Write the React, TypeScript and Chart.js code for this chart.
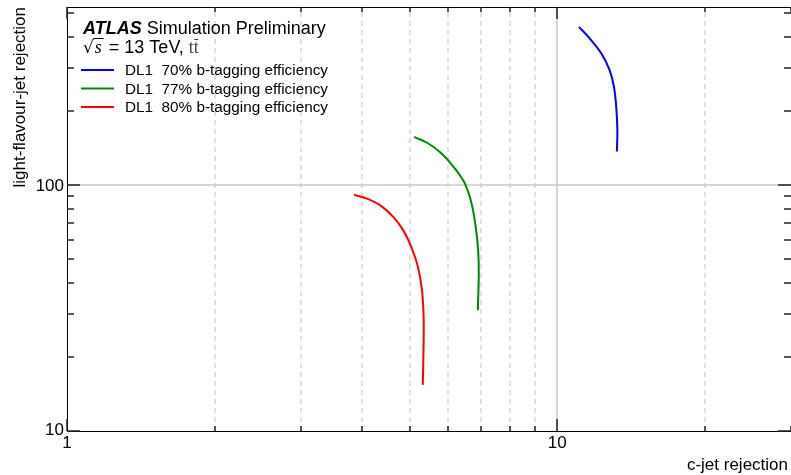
import React, { useEffect, useRef } from "react";
import { Chart, registerables } from "chart.js";

Chart.register(...registerables);

// ---- data ----
const blueX = [11.08, 11.65, 12.31, 12.8, 13.06, 13.2, 13.27, 13.24];
const blueY = [440, 395, 343, 293, 251, 208, 167, 137];

const greenX = [5.11, 5.45, 5.81, 6.18, 6.48, 6.69, 6.82, 6.9, 6.92, 6.89];
const greenY = [157, 148, 134.5, 117, 101.6, 84.2, 67.7, 54.4, 43.8, 31.0];

const redX = [3.85, 4.08, 4.35, 4.63, 4.85, 5.04, 5.2, 5.3, 5.34, 5.34, 5.32];
const redY = [91.3, 88.3, 82.9, 74.3, 65.6, 56.1, 46.5, 37.4, 29.2, 22.7, 15.4];

const seriesLabels = [
  "DL1  70% b-tagging efficiency",
  "DL1  77% b-tagging efficiency",
  "DL1  80% b-tagging efficiency",
];
const seriesColors = ["#0000ff", "#008800", "#ff0000"];

const xMin = 1;
const xMax = 30;
const yMin = 10;
const yMax = 530;

const xMajorTicks = [1, 10];
const xMinorTicks = [2, 3, 4, 5, 6, 7, 8, 9, 20, 30];
const xTickLabels = ["1", "10"];
const xDashedGrid = [2, 3, 4, 5, 6, 7, 8, 9, 20];
const xSolidGrid = [10];

const yMajorTicks = [10, 100];
const yMinorTicks = [20, 30, 40, 50, 60, 70, 80, 90, 200, 300, 400, 500];
const yTickLabels = ["10", "100"];
const ySolidGrid = [100];

const xTitle = "c-jet rejection";
const yTitle = "light-flavour-jet rejection";

const SANS = "'Liberation Sans', Arial, Helvetica, sans-serif";
const SERIF = "'Liberation Serif', 'DejaVu Serif', serif";

function pts(xs: number[], ys: number[]) {
  return xs.map((x, i) => ({ x, y: ys[i] }));
}

const decorPlugin = {
  id: "decor",
  beforeDatasetsDraw(chart: any) {
    const { ctx, chartArea: a, scales } = chart;
    const x = scales.x;
    const y = scales.y;
    ctx.save();
    ctx.lineWidth = 1.5;
    ctx.strokeStyle = "#d6d6d6";
    ctx.setLineDash([5, 4]);
    for (const v of xDashedGrid) {
      const px = Math.round(x.getPixelForValue(v));
      ctx.beginPath();
      ctx.moveTo(px, a.bottom);
      ctx.lineTo(px, a.top);
      ctx.stroke();
    }
    ctx.setLineDash([]);
    ctx.strokeStyle = "#c8c8c8";
    for (const v of xSolidGrid) {
      const px = Math.round(x.getPixelForValue(v));
      ctx.beginPath();
      ctx.moveTo(px, a.bottom);
      ctx.lineTo(px, a.top);
      ctx.stroke();
    }
    for (const v of ySolidGrid) {
      const py = Math.round(y.getPixelForValue(v));
      ctx.beginPath();
      ctx.moveTo(a.left, py);
      ctx.lineTo(a.right, py);
      ctx.stroke();
    }
    ctx.restore();
  },
  afterDraw(chart: any) {
    const { ctx, chartArea: a, scales } = chart;
    const x = scales.x;
    const y = scales.y;
    ctx.save();
    // frame
    ctx.strokeStyle = "#000";
    ctx.lineWidth = 1;
    ctx.strokeRect(Math.round(a.left) + 0.5, Math.round(a.top) + 0.5, a.right - a.left, a.bottom - a.top);
    // ticks
    ctx.strokeStyle = "#222";
    ctx.lineWidth = 1.5;
    const vt = (v: number, len: number) => {
      const px = Math.round(x.getPixelForValue(v));
      ctx.beginPath();
      ctx.moveTo(px, a.bottom);
      ctx.lineTo(px, a.bottom - len);
      ctx.moveTo(px, a.top);
      ctx.lineTo(px, a.top + len);
      ctx.stroke();
    };
    const ht = (v: number, len: number) => {
      const py = Math.round(y.getPixelForValue(v));
      ctx.beginPath();
      ctx.moveTo(a.left, py);
      ctx.lineTo(a.left + len, py);
      ctx.moveTo(a.right, py);
      ctx.lineTo(a.right - len, py);
      ctx.stroke();
    };
    xMajorTicks.forEach((v) => vt(v, 12));
    xMinorTicks.forEach((v) => vt(v, 5));
    yMajorTicks.forEach((v) => ht(v, 13));
    yMinorTicks.forEach((v) => ht(v, 7));

    // tick labels
    ctx.fillStyle = "#000";
    ctx.font = `17px ${SANS}`;
    ctx.textBaseline = "alphabetic";
    ctx.textAlign = "center";
    xMajorTicks.forEach((v, i) => {
      ctx.fillText(xTickLabels[i], x.getPixelForValue(v), a.bottom + 17);
    });
    ctx.textAlign = "right";
    yMajorTicks.forEach((v, i) => {
      const py = y.getPixelForValue(v);
      ctx.fillText(yTickLabels[i], a.left - 3, py + 6 - (v === yMin ? 2 : 0));
    });

    // axis titles
    ctx.textAlign = "right";
    ctx.fillText(xTitle, a.right - 3, 470);
    ctx.save();
    ctx.translate(25, a.top);
    ctx.rotate(-Math.PI / 2);
    ctx.textAlign = "right";
    ctx.fillText(yTitle, 0, 0);
    ctx.restore();

    // header text
    const lx = 83;
    ctx.textAlign = "left";
    ctx.font = `italic bold 18px ${SANS}`;
    ctx.fillText("ATLAS", lx, 34);
    let cx = lx + ctx.measureText("ATLAS").width + 5;
    ctx.font = `18px ${SANS}`;
    ctx.fillText("Simulation Preliminary", cx, 34);

    // sqrt(s) = 13 TeV, tt-bar
    ctx.font = `17px 'DejaVu Sans', sans-serif`;
    ctx.fillText("\u221A", lx, 53);
    cx = lx + ctx.measureText("\u221A").width;
    ctx.font = `italic 18px ${SERIF}`;
    const sw = ctx.measureText("s").width;
    ctx.fillText("s", cx + 1, 53);
    ctx.lineWidth = 1;
    ctx.strokeStyle = "#000";
    ctx.beginPath();
    ctx.moveTo(cx - 0.5, 38.5);
    ctx.lineTo(cx + sw + 3, 38.5);
    ctx.stroke();
    cx += sw + 3;
    ctx.font = `18px ${SANS}`;
    const mid = " = 13 TeV, ";
    ctx.fillText(mid, cx, 53);
    cx += ctx.measureText(mid).width;
    ctx.font = `18px ${SERIF}`;
    ctx.fillStyle = "#444";
    ctx.fillText("tt", cx, 53);
    const tw = ctx.measureText("t").width;
    ctx.strokeStyle = "#444";
    ctx.beginPath();
    ctx.moveTo(cx + tw + 0.5, 39.5);
    ctx.lineTo(cx + 2 * tw - 0.5, 39.5);
    ctx.stroke();
    ctx.fillStyle = "#000";

    // legend
    ctx.font = `15.3px ${SANS}`;
    ctx.textBaseline = "middle";
    const rows = [70, 88.5, 107];
    seriesLabels.forEach((lab, i) => {
      ctx.strokeStyle = seriesColors[i];
      ctx.lineWidth = 2;
      ctx.beginPath();
      ctx.moveTo(81, rows[i]);
      ctx.lineTo(114, rows[i]);
      ctx.stroke();
      ctx.fillStyle = "#000";
      ctx.fillText(lab, 125, rows[i] + 1);
    });
    ctx.restore();
  },
};

export default function App() {
  const ref = useRef<HTMLCanvasElement | null>(null);
  useEffect(() => {
    if (!ref.current) return;
    const mk = (xs: number[], ys: number[], i: number) => ({
      label: seriesLabels[i],
      data: pts(xs, ys),
      borderColor: seriesColors[i],
      backgroundColor: seriesColors[i],
      borderWidth: 2,
      pointRadius: 0,
      showLine: true,
      tension: 0.35,
      fill: false,
    });
    const chart = new Chart(ref.current, {
      type: "scatter",
      data: {
        datasets: [mk(blueX, blueY, 0), mk(greenX, greenY, 1), mk(redX, redY, 2)],
      },
      options: {
        animation: false,
        responsive: false,
        maintainAspectRatio: false,
        layout: { padding: { top: 7, right: 0, left: 0, bottom: 0 } },
        plugins: {
          legend: { display: false },
          tooltip: { enabled: false },
        },
        scales: {
          x: {
            type: "logarithmic",
            min: xMin,
            max: xMax,
            ticks: { display: false },
            grid: { display: false },
            border: { display: false },
            afterFit: (s: any) => {
              s.height = 44;
            },
          },
          y: {
            type: "logarithmic",
            min: yMin,
            max: yMax,
            ticks: { display: false },
            grid: { display: false },
            border: { display: false },
            afterFit: (s: any) => {
              s.width = 67;
            },
          },
        },
      },
      plugins: [decorPlugin],
    });
    return () => chart.destroy();
  }, []);
  return (
    <div style={{ position: "absolute", left: 0, top: 0, width: 791, height: 475, background: "#fff" }}>
      <canvas ref={ref} width={791} height={475} style={{ width: 791, height: 475, display: "block" }} />
    </div>
  );
}
